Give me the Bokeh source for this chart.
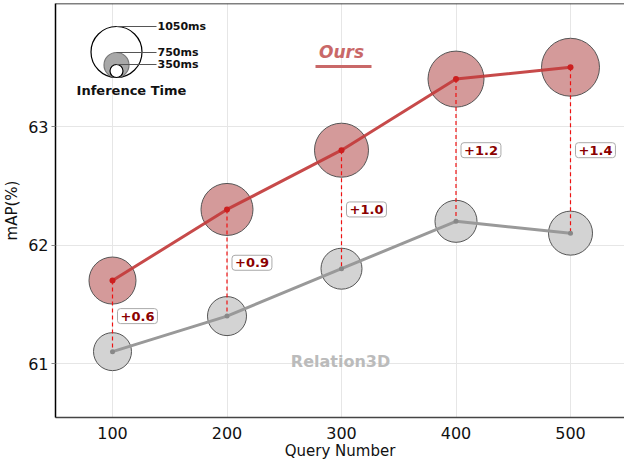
from bokeh.plotting import figure
from bokeh.models import Range1d, Span, Label, FixedTicker, ColumnDataSource
from bokeh.embed import file_html
from bokeh.resources import INLINE

# ---------------- data ----------------
queries = [100, 200, 300, 400, 500]
ours_map = [61.7, 62.3, 62.8, 63.4, 63.5]
rel_map = [61.1, 61.4, 61.8, 62.2, 62.1]
ours_ms = [968, 1071, 1112, 1153, 1194]
rel_ms = [782, 803, 844, 865, 906]
legend_ms = [1050, 750, 350]
x_ticks = [100, 200, 300, 400, 500]
y_ticks = [61, 62, 63]

FONT = "DejaVu Sans"
FW, FH = 569, 414
SX, SY = 1.145, 118.5
X0 = 100 - 57 / SX
X1 = X0 + FW / SX
Y1 = 63 + 123 / SY
Y0 = Y1 - FH / SY

p = figure(frame_width=FW, frame_height=FH, output_backend="svg", toolbar_location=None,
           x_range=Range1d(X0, X1), y_range=Range1d(Y0, Y1),
           min_border_left=50, min_border_right=0, min_border_top=3, min_border_bottom=42)
p.outline_line_color = None
p.background_fill_color = "white"

# axes
p.xaxis.ticker = FixedTicker(ticks=x_ticks)
p.yaxis.ticker = FixedTicker(ticks=y_ticks)
p.xaxis.axis_label = "Query Number"
p.yaxis.axis_label = "mAP(%)"
for ax in (p.xaxis, p.yaxis):
    ax.axis_label_text_font = FONT
    ax.axis_label_text_font_style = "normal"
    ax.axis_label_text_font_size = "15px"
    ax.axis_label_text_color = "#111111"
    ax.major_label_text_font = FONT
    ax.major_label_text_font_size = "16px"
    ax.major_label_text_color = "#111111"
    ax.minor_tick_line_color = None
    ax.axis_line_width = 1.5
p.xaxis.axis_line_color = "#444444"
p.yaxis.axis_line_color = "#000000"
p.xaxis.major_tick_line_color = None
p.xaxis.major_label_standoff = 3
p.xaxis.axis_label_standoff = 0
p.yaxis.major_tick_out = 4
p.yaxis.major_tick_in = 0
p.yaxis.major_tick_line_color = "#888888"
p.yaxis.major_label_standoff = 3
p.yaxis.axis_label_standoff = 4
p.xgrid.ticker = FixedTicker(ticks=x_ticks)
p.ygrid.ticker = FixedTicker(ticks=y_ticks)
p.grid.grid_line_color = "#e6e6e6"
p.grid.grid_line_width = 1

# top spine
p.add_layout(Span(location=Y1, dimension="width", line_color="black", line_width=1.5))

# ---------------- bubbles ----------------
PX_PER_MS = 25.5 / 1050.0
src_o = ColumnDataSource(dict(x=queries, y=ours_map, r=[m * PX_PER_MS for m in ours_ms]))
src_r = ColumnDataSource(dict(x=queries, y=rel_map, r=[m * PX_PER_MS for m in rel_ms]))
p.circle(x="x", y="y", radius="r", radius_units="screen", source=src_o,
         fill_color="#d49a9a", line_color="#555555", line_width=1)
p.circle(x="x", y="y", radius="r", radius_units="screen", source=src_r,
         fill_color="#d3d3d3", line_color="#555555", line_width=1)

# dashed differences
p.segment(x0=queries, y0=ours_map, x1=queries, y1=rel_map,
          line_color="#ee1111", line_width=1.2, line_dash="4 3")

# lines
p.line(queries, rel_map, line_color="#999999", line_width=3)
p.line(queries, ours_map, line_color="#c23b3b", line_width=3, line_alpha=0.92)
p.scatter(queries, rel_map, size=5, fill_color="#888888", line_color=None)
p.scatter(queries, ours_map, size=6, fill_color="#cc1f1f", line_color=None)

# difference labels
for q, o, r in zip(queries, ours_map, rel_map):
    p.add_layout(Label(x=q, y=(o + r) / 2, x_offset=5, text=f"+{o - r:.1f}",
                       text_font=FONT, text_font_style="bold", text_font_size="13px",
                       text_color="#8b0000", text_baseline="middle", text_align="left",
                       background_fill_color="white", border_line_color="#aaaaaa",
                       border_line_width=1, padding=3, border_radius=3))

# ---------------- series names ----------------
def dx(px):
    return X0 + (px - 56) / SX
def dy(py):
    return Y1 - (py - 3) / SY

p.add_layout(Label(x=dx(342), y=dy(51), text="Ours", text_font=FONT, text_font_style="bold italic",
                   text_font_size="17px", text_color="#c96868", text_align="center",
                   text_baseline="middle"))
p.segment(x0=[dx(316)], y0=[dy(66)], x1=[dx(372)], y1=[dy(66)], line_color="#c96868", line_width=3)
p.add_layout(Label(x=dx(341), y=dy(361), text="Relation3D", text_font=FONT, text_font_style="bold",
                   text_font_size="16px", text_color="#bbbbbb", text_align="center",
                   text_baseline="middle"))

# ---------------- inference-time legend ----------------
leg_r = {1050: 25.5, 750: 12.5, 350: 6.5}
leg_fill = {1050: "white", 750: "#a8a8a8", 350: "white"}
leg_line = {1050: "black", 750: "#777777", 350: "black"}
bottom_py = 77
cx = 117
for ms in legend_ms:
    r = leg_r[ms]
    p.circle(x=[dx(cx)], y=[dy(bottom_py - r)], radius=r, radius_units="screen",
             fill_color=leg_fill[ms], line_color=leg_line[ms], line_width=1.2)
    top = bottom_py - 2 * r
    p.segment(x0=[dx(cx)], y0=[dy(top)], x1=[dx(157)], y1=[dy(top)],
              line_color="#555555", line_width=1.2)
    p.add_layout(Label(x=dx(158), y=dy(top), text=f"{ms}ms", text_font=FONT,
                       text_font_style="bold", text_font_size="11px", text_color="#111111",
                       text_baseline="middle", text_align="left"))
p.add_layout(Label(x=dx(132), y=dy(90), text="Inference Time", text_font=FONT,
                   text_font_style="bold", text_font_size="13px", text_color="#111111",
                   text_baseline="middle", text_align="center"))

open("out.html", "w").write(file_html(p, INLINE))
